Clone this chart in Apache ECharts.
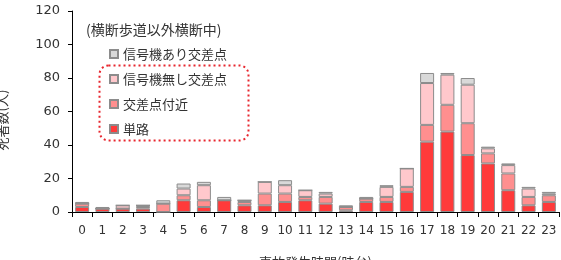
<!DOCTYPE html>
<html>
<head>
<meta charset="utf-8">
<script src="https://cdn.jsdelivr.net/npm/echarts@6/dist/echarts.min.js"></script>
<style>
  html, body { margin: 0; padding: 0; background: #fff; }
  #main { width: 561px; height: 260px; }
</style>
</head>
<body>
<div id="main"></div>
<script>
// 時台 0-23
var hours = ['0','1','2','3','4','5','6','7','8','9','10','11','12','13','14','15','16','17','18','19','20','21','22','23'];
var yTicks = [0, 20, 40, 60, 80, 100, 120];

// 死者数（人） 下から積み上げ
var tanro      = [3, 2, 2, 2, 0, 7, 3, 7, 4, 4, 6, 7, 5, 1, 6, 6, 12, 42, 48, 34, 29, 13, 4, 6];   // 単路
var fukin      = [2, 0, 0, 1, 5, 3, 4, 0, 2, 7, 5, 2, 4, 2, 2, 3, 3, 10, 16, 19, 6, 10, 5, 4];   // 交差点付近
var shingouNashi = [0, 0, 2, 1, 0, 4, 9, 0, 1, 7, 5, 4, 2, 0, 0, 6, 11, 25, 18, 23, 3, 5, 5, 1]; // 信号機無し交差点
var shingouAri = [1, 1, 0, 0, 2, 3, 2, 2, 0, 0, 3, 0, 1, 1, 1, 1, 0, 6, 1, 4, 1, 1, 1, 1];   // 信号機あり交差点

var jpFont = '"Noto Sans CJK JP", sans-serif';
var numFont = '"DejaVu Sans", Verdana, sans-serif';

function barSeries(name, data, color) {
  return {
    name: name,
    type: 'bar',
    stack: 'total',
    barWidth: 14,
    data: data,
    itemStyle: {
      color: color,
      borderColor: '#8c8c8c',
      borderWidth: 1
    }
  };
}

var myChart = echarts.init(document.getElementById('main'));

var option = {
  animation: false,
  backgroundColor: '#fff',
  grid: {
    left: 72,
    right: 2,
    top: 11,
    bottom: 48,
    containLabel: false,
    outerBoundsMode: 'none'
  },
  legend: {
    orient: 'vertical',
    left: 104,
    top: 42,
    icon: 'rect',
    itemWidth: 8,
    itemHeight: 8,
    itemGap: 11,
    data: ['信号機あり交差点', '信号機無し交差点', '交差点付近', '単路'],
    textStyle: {
      fontFamily: jpFont,
      fontSize: 13,
      color: '#333',
      lineHeight: 14
    }
  },
  graphic: [
    {
      type: 'text',
      left: 86,
      top: 23,
      style: {
        text: '(横断歩道以外横断中)',
        font: '14px ' + jpFont,
        fill: '#333'
      }
    },
    {
      type: 'rect',
      left: 97,
      top: 63,
      shape: { width: 149, height: 75, r: 9 },
      style: {
        fill: 'none',
        stroke: '#e8262e',
        lineWidth: 2,
        lineDash: [2, 3]
      }
    },
    {
      type: 'text',
      x: 2,
      y: 120,
      rotation: Math.PI / 2,
      style: {
        text: '死者数(人)',
        font: '13px ' + jpFont,
        fill: '#333',
        align: 'center',
        verticalAlign: 'middle'
      }
    }
  ],
  xAxis: {
    type: 'category',
    data: hours,
    name: '事故発生時間(時台)',
    nameLocation: 'middle',
    nameGap: 44,
    nameTextStyle: {
      fontFamily: jpFont,
      fontSize: 13,
      color: '#333'
    },
    axisLine: { lineStyle: { color: '#000', width: 1 } },
    axisTick: { show: true, length: 5, lineStyle: { color: '#000' } },
    axisLabel: {
      interval: 0,
      margin: 13,
      fontFamily: numFont,
      fontSize: 12,
      color: '#333'
    }
  },
  yAxis: {
    type: 'value',
    min: yTicks[0],
    max: yTicks[yTicks.length - 1],
    interval: yTicks[1] - yTicks[0],
    axisLine: { show: true, lineStyle: { color: '#000', width: 1 } },
    axisTick: { show: true, length: 4, lineStyle: { color: '#000' } },
    axisLabel: {
      margin: 12,
      fontFamily: numFont,
      fontSize: 13,
      color: '#333'
    },
    splitLine: { show: false }
  },
  series: [
    barSeries('単路', tanro, '#ff3a3a'),
    barSeries('交差点付近', fukin, '#ff8f8f'),
    barSeries('信号機無し交差点', shingouNashi, '#ffc8cc'),
    barSeries('信号機あり交差点', shingouAri, '#d9d9d9')
  ]
};

myChart.setOption(option);
</script>
</body>
</html>
